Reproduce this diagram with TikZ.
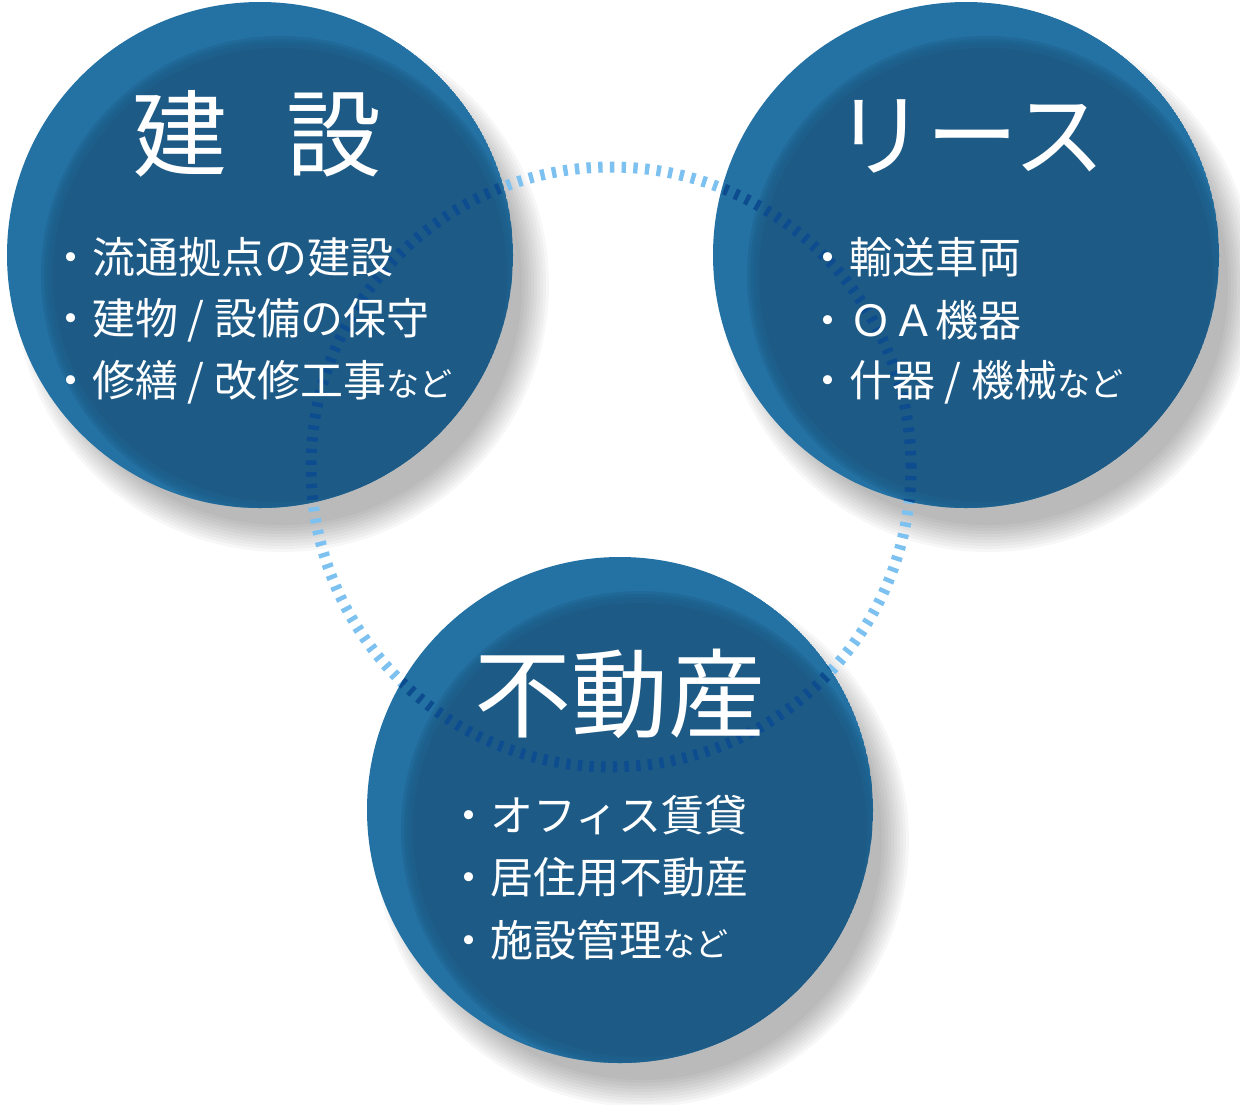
\documentclass[tikz,border=0pt]{standalone}
\usepackage{fontspec}
\setmainfont{Noto Sans CJK JP}
\definecolor{ringblue}{HTML}{2372A3}
\definecolor{coreblue}{HTML}{1D5B86}
\definecolor{dotlight}{HTML}{7DC1F1}
\definecolor{dotdark}{HTML}{0C4C8F}
\tikzset{
  titletext/.style={text=white, inner sep=0pt},
  itemtext/.style={text=white, font=\fontsize{43}{50}\selectfont, anchor=west, inner sep=0pt},
  dotring/.style={line width=11pt, dash pattern=on 4.4pt off 7.3pt},
}
\newcommand{\smallnado}{{\fontsize{33}{36}\selectfont など}}
\begin{document}
\begin{tikzpicture}[x=1pt,y=-1pt]
\useasboundingbox (0,0) rectangle (1240,1104);
\coordinate (c1) at (260,255);
\coordinate (c2) at (966,255);
\coordinate (c3) at (620,810);
\coordinate (ringc) at (611,467);

% soft shadows
\foreach \c in {c1,c2,c3}{
  \foreach \k in {0,...,9}{
    \fill[black,opacity=0.03] ([shift={(22,30)}]\c) circle ({240pt+\k*3pt});
  }
}

% light dotted ring
\draw[dotlight, dotring] (ringc) circle (300pt);

% circles with bevel
\foreach \c in {c1,c2,c3}{
  \begin{scope}
    \clip (\c) circle (253pt);
    \fill[ringblue] (\c) circle (253pt);
    \foreach \r in {239,236,233,230}{
      \fill[coreblue,opacity=0.35] ([shift={(20,20)}]\c) circle (\r pt);
    }
    \fill[coreblue] ([shift={(20,20)}]\c) circle (227pt);
  \end{scope}
}

% dark dotted ring over circles
\begin{scope}
  \clip (c1) circle (253pt) (c2) circle (253pt) (c3) circle (253pt);
  \draw[dotdark, dotring] (ringc) circle (300pt);
\end{scope}

% titles
\node[titletext, font=\fontsize{95}{100}\selectfont] (t1) at (257,134) {建\hspace{0.63em}設};
\node[titletext, font=\fontsize{92}{100}\selectfont] (t2) at (970,136) {リース};
\node[titletext, font=\fontsize{97}{100}\selectfont] (t3) at (620,694) {不動産};

% items
\node[itemtext] (a1) at (49,257) {・流通拠点の建設};
\node[itemtext] (a2) at (49,320) {・建物 / 設備の保守};
\node[itemtext] (a3) at (49,382) {・修繕 / 改修工事\smallnado};

\node[itemtext] (b1) at (806,257) {・輸送車両};
\node[itemtext] (b2) at (806,320) {・ＯＡ機器};
\node[itemtext] (b3) at (806,382) {・什器 / 機械\smallnado};

\node[itemtext] (d1) at (447,815) {・オフィス賃貸};
\node[itemtext] (d2) at (447,877) {・居住用不動産};
\node[itemtext] (d3) at (447,940) {・施設管理\smallnado};
\end{tikzpicture}
\end{document}
